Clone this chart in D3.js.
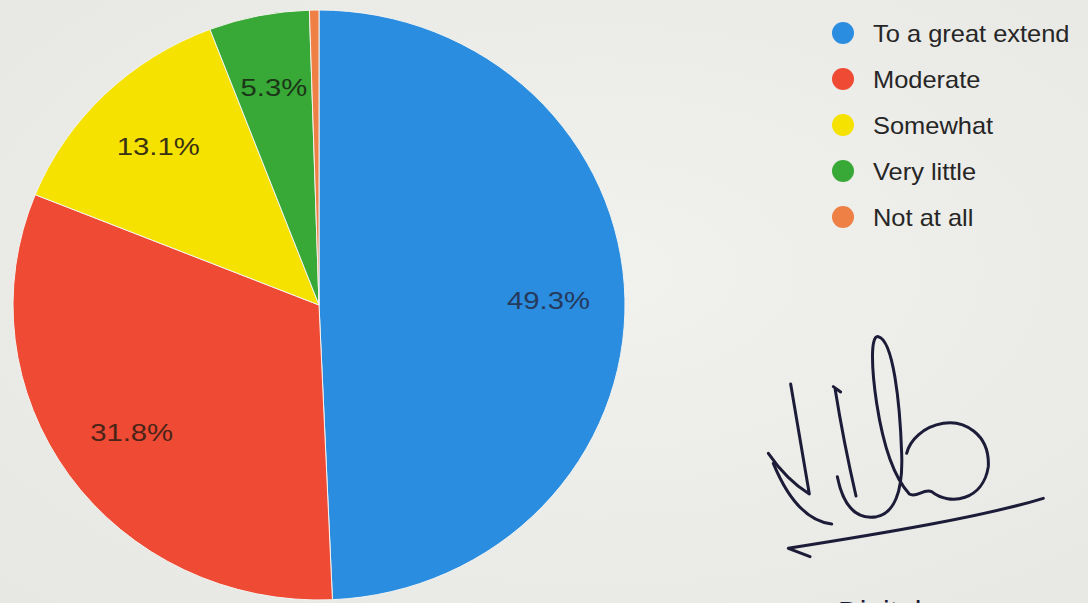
<!DOCTYPE html>
<html>
<head>
<meta charset="utf-8">
<script src="https://cdn.jsdelivr.net/npm/d3@7/dist/d3.min.js"></script>
<style>
  html, body { margin: 0; padding: 0; background: #eeeeea; }
  svg { display: block; }
  text { font-family: "Liberation Sans", Arial, sans-serif; }
</style>
</head>
<body>
<svg id="chart" width="1088" height="603"></svg>
<script>
const categories = ["To a great extend", "Moderate", "Somewhat", "Very little", "Not at all"];
const values = [49.3, 31.8, 13.1, 5.3, 0.5];
const labels = ["49.3%", "31.8%", "13.1%", "5.3%", ""];
const colors = ["#2a8de0", "#ef4a34", "#f6e200", "#38a837", "#ee8045"];
const labelColors = ["#263a5c", "#4a2418", "#3a3212", "#1c3618", "#333"];

const svg = d3.select("#chart");
const W = 1088, H = 603;

const defs = svg.append("defs");
const grad = defs.append("radialGradient").attr("id", "paper").attr("cx", "55%").attr("cy", "45%").attr("r", "75%");
grad.append("stop").attr("offset", "0%").attr("stop-color", "#f1f1ee");
grad.append("stop").attr("offset", "100%").attr("stop-color", "#e7e7e3");
svg.append("rect").attr("width", W).attr("height", H).attr("fill", "url(#paper)");

const cx = 319, cy = 305, rx = 306, ry = 295;

const pie = d3.pie().sort(null).value(d => d)(values);
const arc = d3.arc().innerRadius(0).outerRadius(rx);
const labelArc = d3.arc().innerRadius(rx * 0.75).outerRadius(rx * 0.75);

const pieG = svg.append("g").attr("transform", `translate(${cx},${cy}) scale(1,${ry / rx})`);
pieG.selectAll("path").data(pie).join("path")
  .attr("d", arc)
  .attr("fill", (d, i) => colors[i])
  .attr("stroke", "#f4f4f0")
  .attr("stroke-width", 1);

const labG = svg.append("g").attr("transform", `translate(${cx},${cy})`);
labG.selectAll("text").data(pie).join("text")
  .attr("transform", d => {
    const c = labelArc.centroid(d);
    return `translate(${c[0]},${c[1] * ry / rx}) scale(1.22,1)`;
  })
  .attr("dy", "0.35em")
  .attr("text-anchor", "middle")
  .attr("font-size", 24)
  .attr("fill", (d, i) => labelColors[i])
  .text((d, i) => labels[i]);

// legend
const legend = svg.append("g").attr("transform", "translate(843,33)");
const item = legend.selectAll("g").data(categories).join("g")
  .attr("transform", (d, i) => `translate(0,${i * 46})`);
item.append("circle").attr("r", 11).attr("fill", (d, i) => colors[i]);
item.append("text").attr("transform", "translate(30,9) scale(1.06,1)")
  .attr("font-size", 24).attr("fill", "#262626")
  .text(d => d);

// handwritten signature (decoration)
const sig = svg.append("g").attr("transform", "translate(750,320) scale(0.3333)")
  .attr("fill", "none").attr("stroke", "#1c1c38").attr("stroke-width", 9)
  .attr("stroke-linecap", "round").attr("stroke-linejoin", "round");
sig.append("path").attr("d", "M55,400 Q110,480 178,522 L122,192");
sig.append("path").attr("d", "M70,430 Q140,600 245,612");
sig.append("path").attr("d", "M250,200 L272,216 M255,205 C275,330 300,450 318,528");
sig.append("path").attr("d", "M262,470 C280,560 320,600 380,590 C430,580 460,520 455,400 C450,250 430,60 385,50 C360,45 365,150 380,250 C400,380 430,470 478,522 C500,535 520,505 545,515 C600,560 700,540 715,440 C720,340 640,300 580,310 C520,320 480,360 470,400");
sig.append("path").attr("d", "M880,535 C700,590 400,640 115,685 L180,710");

svg.append("text").attr("x", 838).attr("y", 622)
  .attr("font-size", 30).attr("fill", "#1c1c38").text("Digital");
</script>
</body>
</html>
